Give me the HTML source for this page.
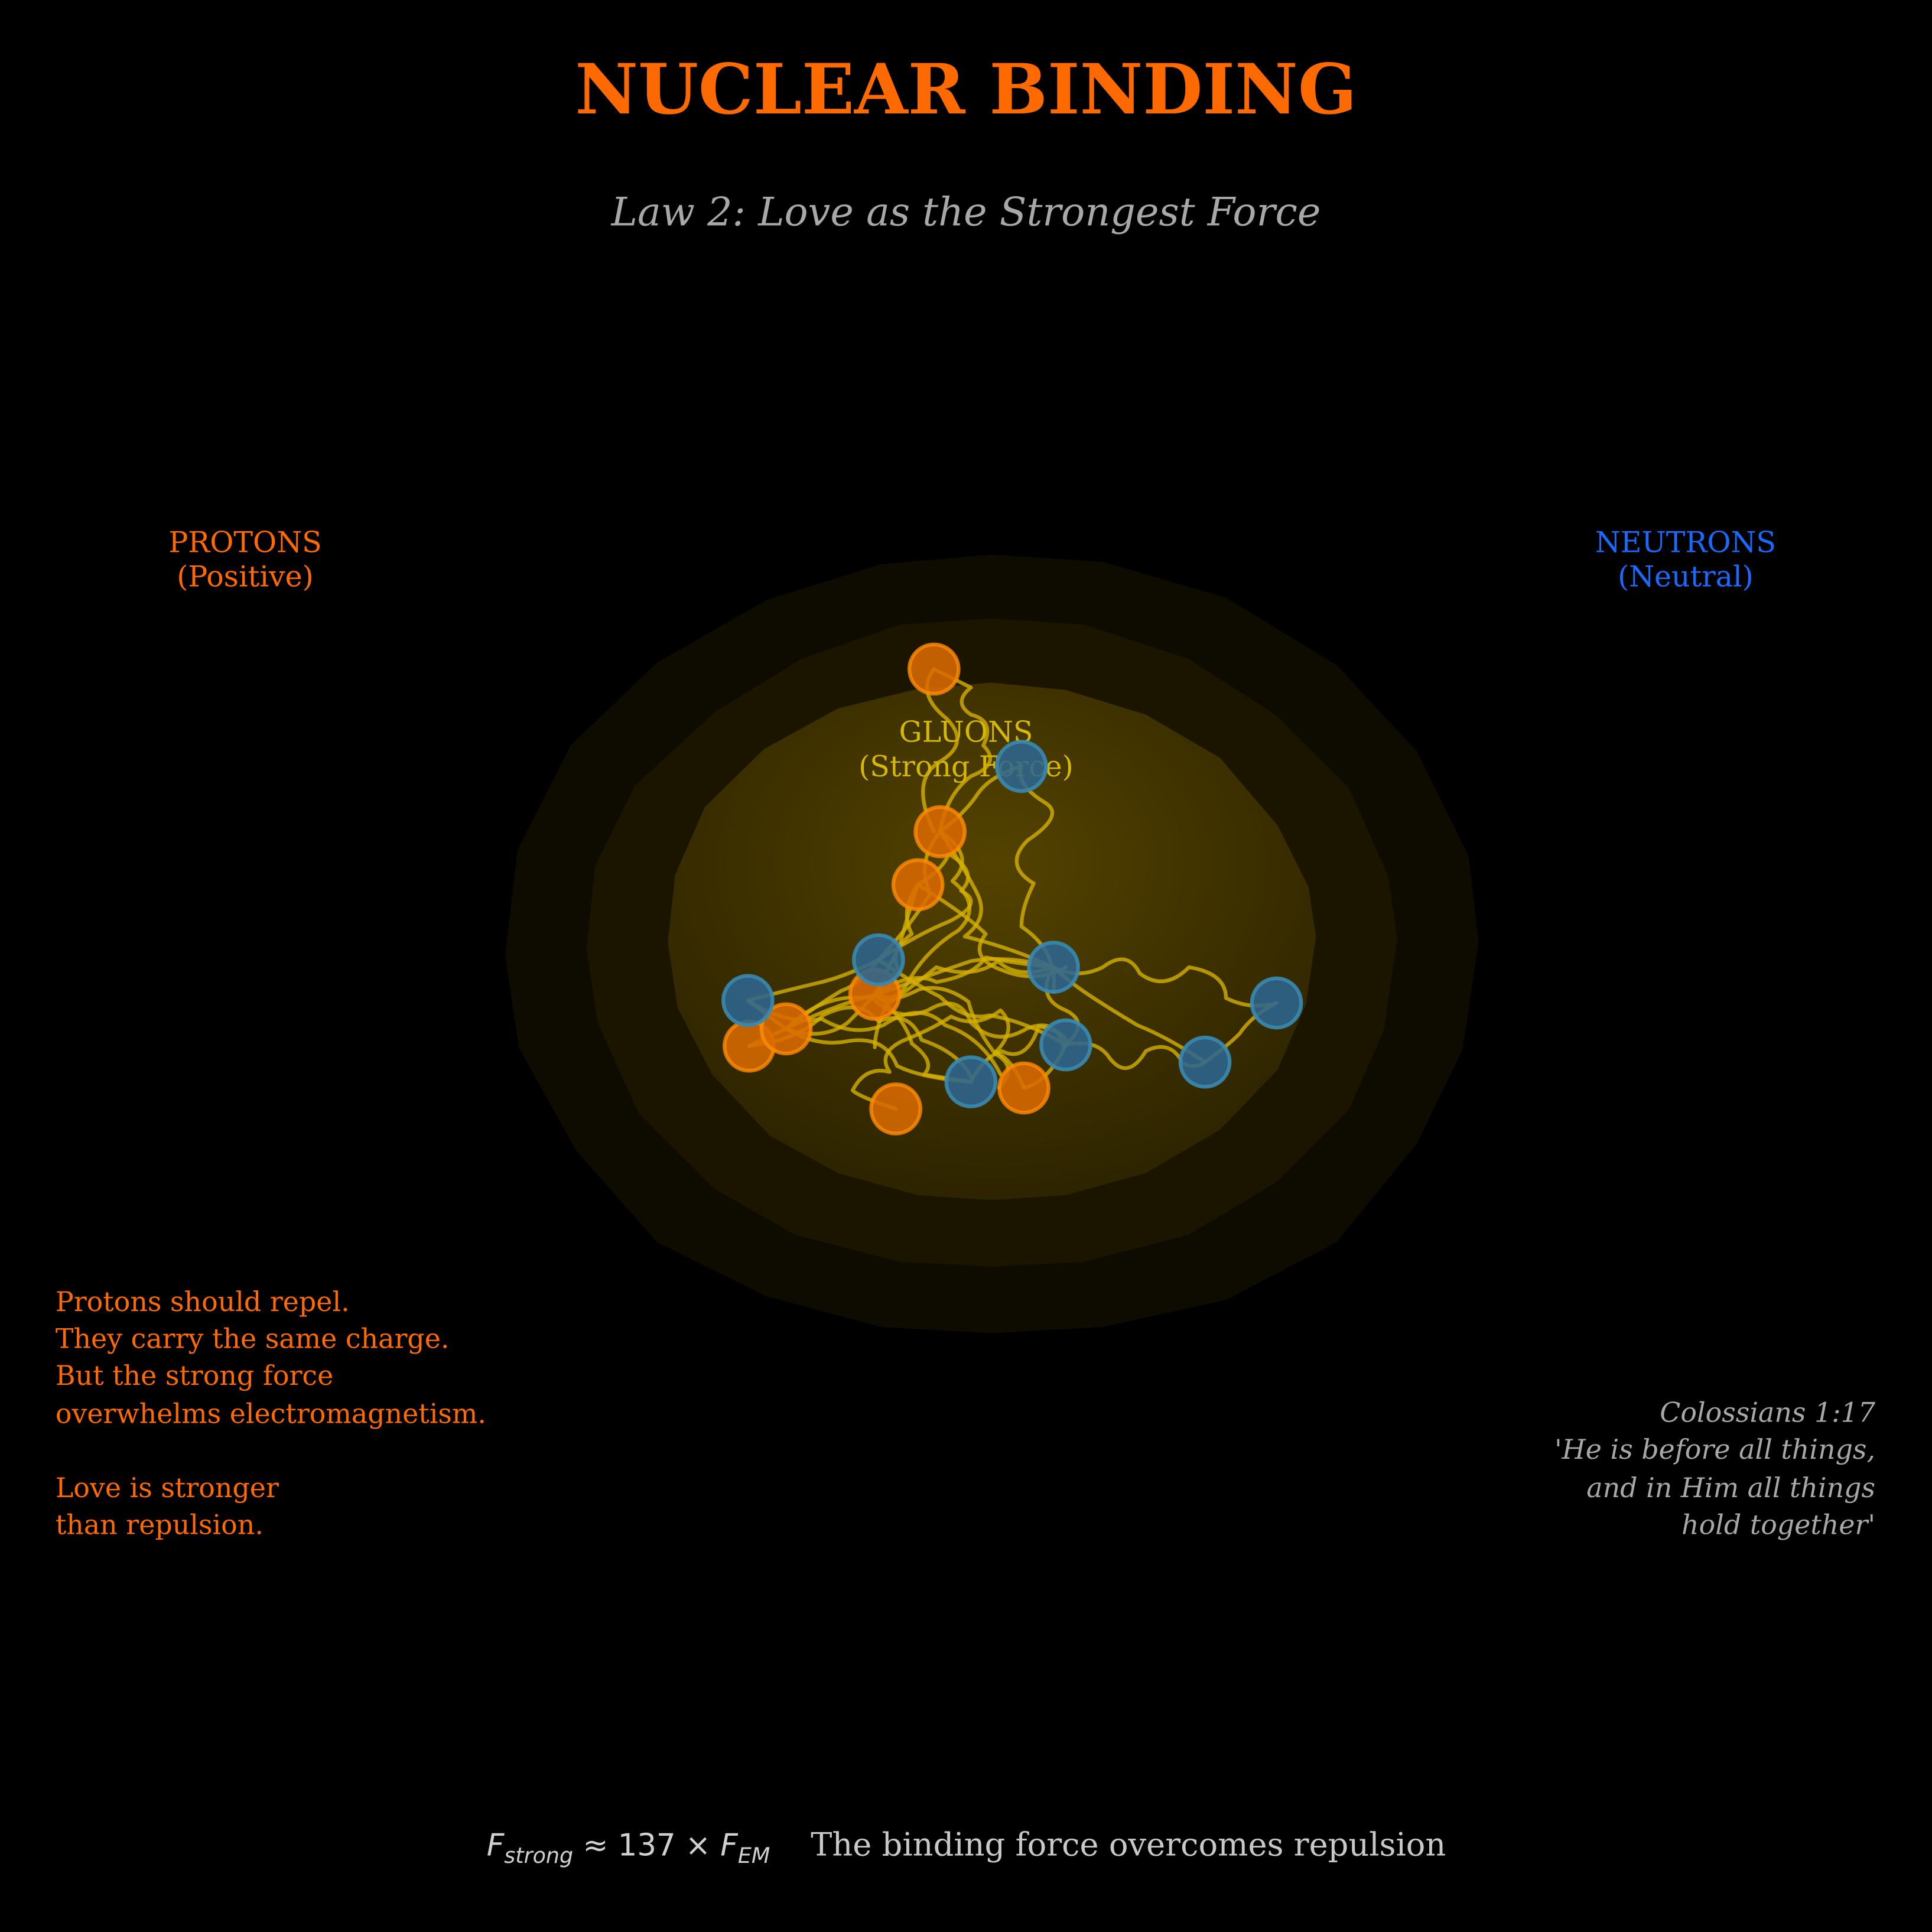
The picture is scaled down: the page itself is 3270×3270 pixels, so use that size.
<!DOCTYPE html>
<html><head><meta charset="utf-8"><style>html,body{margin:0;padding:0;background:#000}svg{display:block}</style></head>
<body>
<svg width="3270" height="3270" viewBox="0 0 1568 1568" xmlns="http://www.w3.org/2000/svg">
<defs>
<radialGradient id="g" cx="0.5" cy="0.35" r="0.7">
<stop offset="0" stop-color="#544300"/><stop offset="1" stop-color="#2a2100"/>
</radialGradient>
</defs>
<rect width="1568" height="1568" fill="#000"/>
<text x="784" y="92" text-anchor="middle" font-family="DejaVu Serif, serif" font-weight="bold" font-size="56" fill="#ff6a00">NUCLEAR BINDING</text>
<text x="784" y="183" text-anchor="middle" font-family="DejaVu Serif, serif" font-style="italic" font-size="32" fill="#a8a8a8">Law 2: Love as the Strongest Force</text>

<polygon fill="#0e0b00" points="805,450 895,456 995,485 1085,540 1150,610 1192,695 1200,765 1187,852 1150,928 1085,1008 995,1055 895,1077 805,1082 715,1077 622,1052 533,1008 467,933 421,850 410,775 420,690 463,605 533,538 622,487 715,458"/>
<polygon fill="#1b1500" points="805,502 880,507 965,535 1035,580 1095,640 1127,712 1134,762 1123,837 1095,900 1035,960 965,1002 880,1024 805,1028 730,1024 645,1002 580,965 518,903 485,830 476,770 483,703 515,638 580,578 650,535 730,507"/>
<polygon fill="url(#g)" points="805,554 865,560 930,580 990,615 1037,670 1062,720 1068,760 1060,815 1037,868 990,917 930,952 865,970 805,974 745,970 680,952 625,922 578,872 550,818 542,765 548,710 572,655 620,608 680,575 745,559"/>

<text x="784" y="602" text-anchor="middle" font-family="DejaVu Serif, serif" font-size="23.5" fill="#d6b800">GLUONS</text>
<text x="784" y="630" text-anchor="middle" font-family="DejaVu Serif, serif" font-size="23.5" fill="#d6b800">(Strong Force)</text>

<g fill="none" stroke="#d4b000" stroke-width="3" stroke-opacity="0.8" stroke-linecap="round" stroke-linejoin="round">
<path d="M758,543 q20,10 30,15 q-15,12 0,22 q20,5 10,25 q15,15 -10,25 q-20,15 -25,45"/>
<path d="M763,675 q20,-15 30,-30 q10,-15 36,-23"/>
<path d="M829,622 q-5,15 20,30 q15,10 -15,30 q-20,20 5,35 q-10,20 -10,35 q30,20 26,53"/>
<path d="M745,718 q20,-12 25,-25 q25,15 10,30 q20,10 -10,25 q-25,10 -57,31"/>
<path d="M763,675 q-20,25 -8,50 q-15,25 -42,54"/>
<path d="M745,718 q-10,30 -15,50 q-10,20 -20,39"/>
<path d="M763,675 q20,30 30,50 q10,20 -10,35 q40,10 72,25"/>
<path d="M855,785 q20,10 40,0 q20,-15 30,5 q20,15 40,-5 q30,5 30,25 q20,10 41,4"/>
<path d="M855,785 q-15,25 10,35 q20,10 0,28"/>
<path d="M865,848 q25,-5 35,10 q15,20 30,-5 q20,-10 30,10 q10,5 18,-1"/>
<path d="M1036,814 q-20,10 -30,25 q-10,10 -28,23"/>
<path d="M607,812 q30,-8 60,-15 q20,-5 46,-18"/>
<path d="M607,812 q20,15 31,23"/>
<path d="M608,849 q20,-10 30,-14 q30,10 50,-5 q15,-15 22,-23"/>
<path d="M638,835 q25,15 50,10 q30,-5 40,20 q20,10 60,13"/>
<path d="M710,807 q25,20 30,40 q20,15 10,25 q30,5 38,6"/>
<path d="M710,807 q30,-20 50,-10 q30,-5 40,-20 q25,5 55,8"/>
<path d="M713,779 q30,20 50,30 q20,20 40,15 q30,5 62,24"/>
<path d="M727,900 q-30,-10 -35,-15 q10,-20 30,-15 q-10,-15 10,-25 q25,-10 40,-20 q20,10 40,-5 q15,15 -5,35 q20,10 4,28"/>
<path d="M788,878 q10,-20 25,-25 q20,10 30,-20 q25,5 22,15"/>
<path d="M831,883 q20,-5 34,-35"/>
<path d="M831,883 q-10,-25 -25,-30 q-15,-20 -20,-40 q-20,-15 -40,-10 q-30,15 -36,4"/>
<path d="M607,812 q30,20 60,15 q25,15 50,5 q30,-20 50,0 q30,10 45,40"/>
<path d="M745,718 q40,25 55,40 q-15,20 15,30 q25,10 50,-3"/>
<path d="M758,543 q-15,20 10,40 q20,20 -5,35 q-25,15 -5,57"/>
<path d="M638,835 q40,-20 80,-30 q40,-15 70,-25 q30,-5 67,5"/>
<path d="M713,779 q-15,20 -30,25 q-25,15 -45,31"/>
<path d="M978,862 q-30,-20 -55,-30 q-25,-15 -40,-25 q-15,-10 -28,-22"/>
<path d="M745,718 q-15,20 -5,40 q-20,15 -10,30 q-20,10 -15,20"/>
<path d="M608,849 q40,-5 60,-25 q30,-15 45,5 q25,-10 35,15 q30,10 40,30"/>
<path d="M638,835 q30,-30 70,-25 q20,20 45,10 q25,-15 35,10 q20,20 45,5 q25,-10 30,15"/>
<path d="M763,675 q30,20 10,40 q25,20 5,40 q-25,15 -40,40 q-10,20 -25,12"/>
<path d="M855,785 q-30,10 -45,-5 q-20,15 -50,5 q-25,20 -40,30 q-10,20 -10,35"/>
</g>

<g stroke-width="3">
<g fill="#d96a00" fill-opacity="0.88" stroke="#ff8c00" stroke-opacity="0.8">
<circle cx="758" cy="543" r="20"/><circle cx="763" cy="675" r="20"/><circle cx="745" cy="718" r="20"/>
<circle cx="710" cy="807" r="20"/><circle cx="608" cy="849" r="20"/><circle cx="638" cy="835" r="20"/>
<circle cx="727" cy="900" r="20"/><circle cx="831" cy="883" r="20"/>
</g>
<g fill="#2e6590" fill-opacity="0.88" stroke="#3a8ab0" stroke-opacity="0.9">
<circle cx="829" cy="622" r="20"/><circle cx="713" cy="779" r="20"/><circle cx="855" cy="785" r="20"/>
<circle cx="607" cy="812" r="20"/><circle cx="1036" cy="814" r="20"/><circle cx="865" cy="848" r="20"/>
<circle cx="978" cy="862" r="20"/><circle cx="788" cy="878" r="20"/>
</g>
</g>

<g font-family="DejaVu Serif, serif" font-size="23.5">
<text x="199" y="448" text-anchor="middle" fill="#ff6a00">PROTONS</text>
<text x="199" y="476" text-anchor="middle" fill="#ff6a00">(Positive)</text>
<text x="1368" y="448" text-anchor="middle" fill="#1a6aff">NEUTRONS</text>
<text x="1368" y="476" text-anchor="middle" fill="#1a6aff">(Neutral)</text>
</g>
<g font-family="DejaVu Serif, serif" font-size="22" fill="#ff6a00">
<text x="45" y="1064">Protons should repel.</text>
<text x="45" y="1094">They carry the same charge.</text>
<text x="45" y="1124">But the strong force</text>
<text x="45" y="1155">overwhelms electromagnetism.</text>
<text x="45" y="1215">Love is stronger</text>
<text x="45" y="1245">than repulsion.</text>
</g>
<g font-family="DejaVu Serif, serif" font-size="22" font-style="italic" fill="#a8a8a8" text-anchor="end">
<text x="1522" y="1154">Colossians 1:17</text>
<text x="1522" y="1184">'He is before all things,</text>
<text x="1522" y="1215">and in Him all things</text>
<text x="1522" y="1245">hold together'</text>
</g>
<text x="395" y="1506" font-family="DejaVu Sans, sans-serif" font-size="24.6" fill="#d0d0d0"><tspan font-style="italic">F</tspan><tspan font-style="italic" font-size="17.5" dy="6">strong</tspan><tspan dy="-6"> ≈ 137 × </tspan><tspan font-style="italic">F</tspan><tspan font-style="italic" font-size="17.5" dy="6">EM</tspan></text>
<text x="658" y="1506" font-family="DejaVu Serif, serif" font-size="26" fill="#c8c8c8">The binding force overcomes repulsion</text>
</svg>
</body></html>
